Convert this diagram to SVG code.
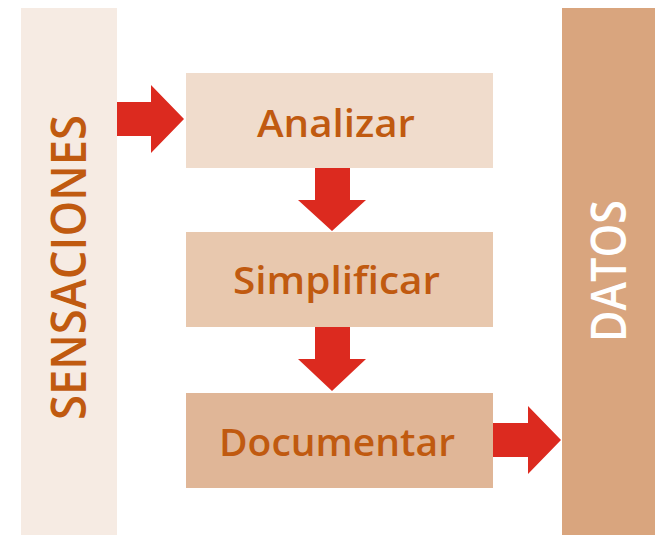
<svg xmlns="http://www.w3.org/2000/svg" width="655" height="535" viewBox="0 0 655 535">
<style>
.lbl{font-family:"Open Sans","DejaVu Sans",sans-serif;font-weight:600;font-size:38px;fill:#c05a10;text-anchor:middle}
.side{font-family:"Open Sans","DejaVu Sans",sans-serif;font-weight:600;font-size:48px;text-anchor:middle}
.arr{fill:#dc2a1f}
</style>
<rect width="655" height="535" fill="#ffffff"/>
<g id="sensaciones">
<rect x="21" y="8" width="96" height="527" fill="#f6ebe3"/>
<text class="side" fill="#c05a10" transform="translate(86,267.5) rotate(-90)" textLength="305" lengthAdjust="spacingAndGlyphs">SENSACIONES</text>
</g>
<g id="datos">
<rect x="562" y="8" width="93" height="527" fill="#d9a57e"/>
<text class="side" fill="#ffffff" font-weight="400" transform="translate(626,271) rotate(-90)" textLength="142" lengthAdjust="spacingAndGlyphs">DATOS</text>
</g>
<g id="analizar">
<rect x="186" y="73" width="307" height="95" fill="#f0dccc"/>
<text class="lbl" x="336" y="137" textLength="158" lengthAdjust="spacingAndGlyphs">Analizar</text>
</g>
<g id="simplificar">
<rect x="186" y="232" width="307" height="95" fill="#e8c8ae"/>
<text class="lbl" x="336.5" y="294" textLength="207" lengthAdjust="spacingAndGlyphs">Simplificar</text>
</g>
<g id="documentar">
<rect x="186" y="393" width="307" height="95" fill="#e0b697"/>
<text class="lbl" x="337" y="456" textLength="236" lengthAdjust="spacingAndGlyphs">Documentar</text>
</g>
<g id="connectors">
<polygon class="arr" points="117,102 151,102 151,85 184,119 151,153 151,136 117,136"/>
<polygon class="arr" points="315,168 350,168 350,200 366,200 332,231 298,200 315,200"/>
<polygon class="arr" points="315,327 350,327 350,359 366,359 332,391 298,359 315,359"/>
<polygon class="arr" points="493,423 528,423 528,406 561,440 528,474 528,457 493,457"/>
</g>
</svg>
